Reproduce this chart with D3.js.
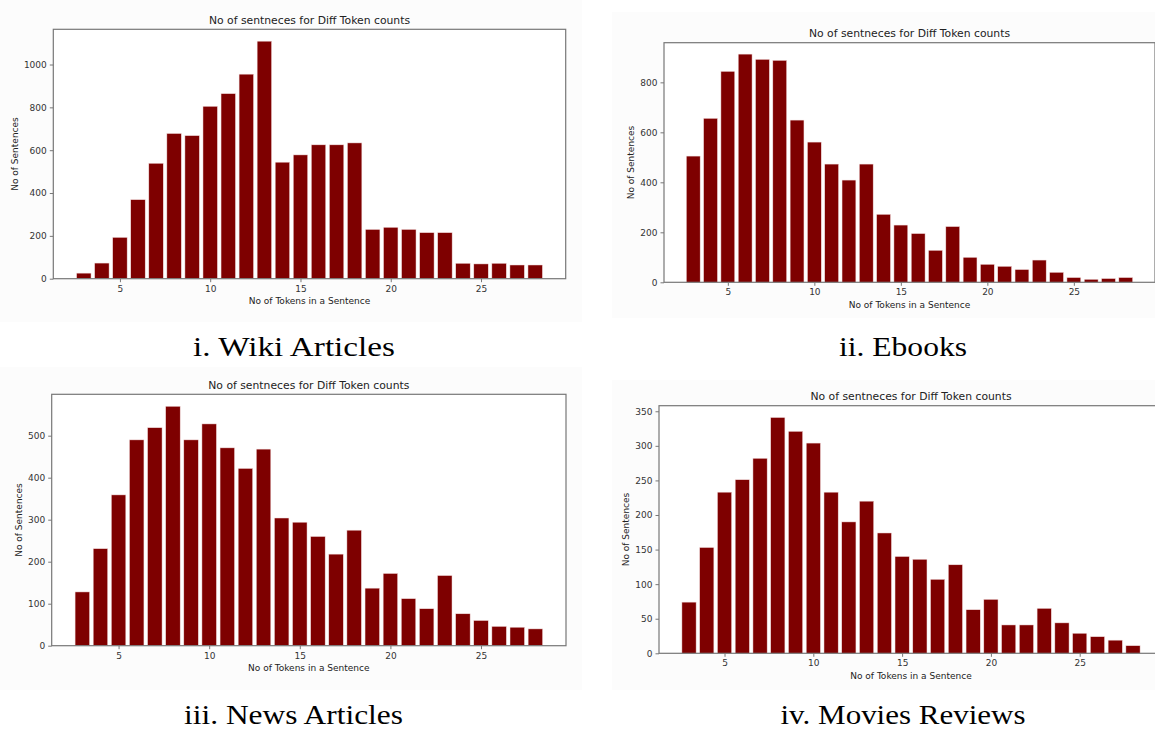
<!DOCTYPE html>
<html>
<head>
<meta charset="utf-8">
<script src="https://cdn.jsdelivr.net/npm/d3@7"></script>
<style>
  html, body { margin: 0; padding: 0; background: #ffffff; }
  svg { display: block; }
  .tick text { font-family: "DejaVu Sans", sans-serif; font-size: 9px; fill: #333; }
  .tick line { stroke: #777; stroke-width: 1; }
</style>
</head>
<body>
<svg id="chart" width="1155" height="731"></svg>
<script>
// Token counts per sentence (x categories)
const tokenCounts = [3, 4, 5, 6, 7, 8, 9, 10, 11, 12, 13, 14, 15, 16, 17, 18, 19, 20, 21, 22, 23, 24, 25, 26, 27, 28];

// Number of sentences for each token count, per corpus
const wikiCounts  = [26, 73, 193, 369, 539, 678, 668, 805, 864, 955, 1109, 544, 578, 625, 625, 634, 230, 240, 230, 215, 215, 72, 69, 72, 64, 64];
const ebookCounts = [505, 656, 844, 913, 892, 888, 649, 561, 473, 409, 473, 272, 229, 195, 128, 223, 100, 72, 64, 51, 89, 40, 19, 12, 15, 19];
const newsCounts  = [128, 231, 359, 490, 519, 570, 490, 528, 471, 422, 468, 304, 294, 260, 218, 275, 137, 172, 112, 88, 167, 76, 60, 46, 44, 40];
const movieCounts = [74, 153, 233, 251, 282, 341, 321, 304, 233, 190, 220, 174, 140, 136, 107, 128, 63, 78, 41, 41, 65, 44, 29, 24, 19, 11];

// Tick labels
const xTicks     = [5, 10, 15, 20, 25];
const wikiTicks  = [0, 200, 400, 600, 800, 1000];
const ebookTicks = [0, 200, 400, 600, 800];
const newsTicks  = [0, 100, 200, 300, 400, 500];
const movieTicks = [0, 50, 100, 150, 200, 250, 300, 350];

// Text
const chartTitle = "No of sentneces for Diff Token counts";
const xLabel = "No of Tokens in a Sentence";
const yLabel = "No of Sentences";
const captions = ["i. Wiki Articles", "ii. Ebooks", "iii. News Articles", "iv. Movies Reviews"];

// Panel layout: plot box, figure background, caption placement
const panels = [
  { counts: wikiCounts,  ticks: wikiTicks,  caption: captions[0],
    box: { left: 53.3, right: 565.7, top: 29.3, bottom: 278.7 },
    bg: { x: 0, y: 0, w: 582, h: 322 },
    cap: { x: 294, y: 356, len: 202 } },
  { counts: ebookCounts, ticks: ebookTicks, caption: captions[1],
    box: { left: 664, right: 1155, top: 42.7, bottom: 282.3 },
    bg: { x: 612, y: 12, w: 543, h: 306 },
    cap: { x: 903, y: 356, len: 128 } },
  { counts: newsCounts,  ticks: newsTicks,  caption: captions[2],
    box: { left: 51.7, right: 566, top: 394.3, bottom: 645.7 },
    bg: { x: 0, y: 367, w: 582, h: 323 },
    cap: { x: 293.5, y: 724, len: 219 } },
  { counts: movieCounts, ticks: movieTicks, caption: captions[3],
    box: { left: 659, right: 1163, top: 405.7, bottom: 653.3 },
    bg: { x: 612, y: 380, w: 543, h: 310 },
    cap: { x: 903, y: 724, len: 245 } }
];

const svg = d3.select("#chart");
const barColor = "#7e0000";
const spineColor = "#777";

// x limits follow the usual 5% margin around bars of width 0.8
const barWidth = 0.8;
const xMinData = d3.min(tokenCounts) - barWidth / 2;
const xMaxData = d3.max(tokenCounts) + barWidth / 2;
const xPad = (xMaxData - xMinData) * 0.05;

panels.forEach(p => {
  const b = p.box;

  svg.append("rect")
    .attr("x", p.bg.x).attr("y", p.bg.y)
    .attr("width", p.bg.w).attr("height", p.bg.h)
    .attr("fill", "#fcfcfc");

  const g = svg.append("g");

  const x = d3.scaleLinear()
    .domain([xMinData - xPad, xMaxData + xPad])
    .range([b.left, b.right]);

  const y = d3.scaleLinear()
    .domain([0, d3.max(p.counts) * 1.05])
    .range([b.bottom, b.top]);

  // plot area
  g.append("rect")
    .attr("x", b.left).attr("y", b.top)
    .attr("width", b.right - b.left).attr("height", b.bottom - b.top)
    .attr("fill", "#ffffff");

  // bars
  g.append("g")
    .selectAll("rect")
    .data(tokenCounts.map((t, i) => ({ t, v: p.counts[i] })))
    .join("rect")
    .attr("x", d => x(d.t - barWidth / 2))
    .attr("width", d => x(d.t + barWidth / 2) - x(d.t - barWidth / 2))
    .attr("y", d => y(d.v))
    .attr("height", d => y(0) - y(d.v))
    .attr("fill", barColor)
    .attr("stroke", "#f3dede")
    .attr("stroke-width", 0.5);

  // axes
  const xAxis = g.append("g")
    .attr("transform", `translate(0,${b.bottom})`)
    .call(d3.axisBottom(x).tickValues(xTicks).tickSize(3.5).tickPadding(3).tickFormat(d3.format("d")));
  xAxis.select(".domain").remove();

  const yAxis = g.append("g")
    .attr("transform", `translate(${b.left},0)`)
    .call(d3.axisLeft(y).tickValues(p.ticks).tickSize(3.5).tickPadding(3).tickFormat(d3.format("d")));
  yAxis.select(".domain").remove();

  // spines
  g.append("rect")
    .attr("x", b.left).attr("y", b.top)
    .attr("width", b.right - b.left).attr("height", b.bottom - b.top)
    .attr("fill", "none")
    .attr("stroke", spineColor)
    .attr("stroke-width", 1.2);

  // title
  g.append("text")
    .attr("x", (b.left + b.right) / 2)
    .attr("y", b.top - 5.5)
    .attr("text-anchor", "middle")
    .attr("font-family", "DejaVu Sans, sans-serif")
    .attr("font-size", 10.8)
    .attr("fill", "#222")
    .text(chartTitle);

  // x label
  g.append("text")
    .attr("x", (b.left + b.right) / 2)
    .attr("y", b.bottom + 25.5)
    .attr("text-anchor", "middle")
    .attr("font-family", "DejaVu Sans, sans-serif")
    .attr("font-size", 9)
    .attr("fill", "#222")
    .text(xLabel);

  // y label placed clear of the widest tick label
  let maxW = 0;
  yAxis.selectAll(".tick text").each(function () {
    maxW = Math.max(maxW, this.getBBox().width);
  });
  const yLabelX = b.left - 6.5 - maxW - 9;
  g.append("text")
    .attr("transform", `translate(${yLabelX},${(b.top + b.bottom) / 2}) rotate(-90)`)
    .attr("text-anchor", "middle")
    .attr("dy", "0.35em")
    .attr("font-family", "DejaVu Sans, sans-serif")
    .attr("font-size", 9)
    .attr("fill", "#222")
    .text(yLabel);

  // caption
  svg.append("text")
    .attr("x", p.cap.x)
    .attr("y", p.cap.y)
    .attr("text-anchor", "middle")
    .attr("font-family", "Liberation Serif, serif")
    .attr("font-size", 27)
    .attr("textLength", p.cap.len)
    .attr("lengthAdjust", "spacingAndGlyphs")
    .attr("fill", "#000")
    .text(p.caption);
});
</script>
</body>
</html>
